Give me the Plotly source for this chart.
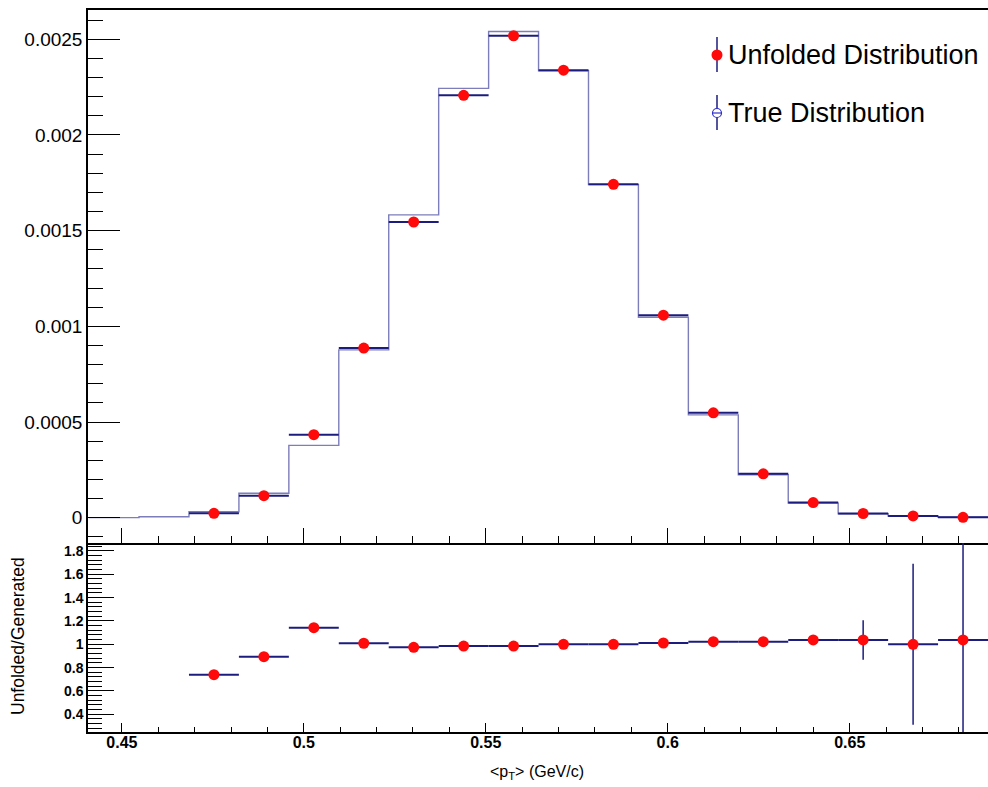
import numpy as np
import plotly.graph_objects as go

# ---- data -------------------------------------------------------------
# <pT> binning (18 equal bins)
bin_edges = np.linspace(0.441, 0.688, 19)

# generated ("true") spectrum, per bin
true_dist = [0.0000005, 0.000005, 0.000031, 0.000128, 0.000378, 0.000877,
             0.001582, 0.002243, 0.002540, 0.002335, 0.001740, 0.001047,
             0.000537, 0.000224, 0.000076, 0.000021, 0.000009, 0.000002]

# unfolded spectrum, per bin (None = empty bin)
unfolded = [None, None, 0.000023, 0.000115, 0.000434, 0.000886,
            0.001545, 0.002207, 0.002518, 0.002338, 0.001742, 0.001058,
            0.000548, 0.000229, 0.000079, 0.000022, 0.000009, 0.000002]
unfolded_err = [0, 0, 0.000002, 0.000003, 0.000005, 0.000006,
                0.000007, 0.000008, 0.000008, 0.000008, 0.000007, 0.000006,
                0.000005, 0.000003, 0.000002, 0.000003, 0.000006, 0.000003]

# unfolded / generated
ratio = [None, None, 0.740, 0.894, 1.142, 1.009, 0.974, 0.985, 0.985,
         1.000, 1.000, 1.011, 1.022, 1.022, 1.037, 1.037, 1.000, 1.037]
ratio_err = [0, 0, 0.01, 0.01, 0.01, 0.005, 0.005, 0.004, 0.004,
             0.004, 0.005, 0.006, 0.008, 0.014, 0.03, 0.17, 0.69, 1.30]

# tick labels
x_ticks = [0.45, 0.50, 0.55, 0.60, 0.65]
x_tick_text = ["0.45", "0.5", "0.55", "0.6", "0.65"]
ratio_ticks = [0.4, 0.6, 0.8, 1.0, 1.2, 1.4, 1.6, 1.8]
ratio_tick_text = ["0.4", "0.6", "0.8", "1", "1.2", "1.4", "1.6", "1.8"]

legend_labels = ["Unfolded Distribution", "True Distribution"]

# ---- derived bin geometry ---------------------------------------------
bin_centers = 0.5 * (bin_edges[:-1] + bin_edges[1:])
half_width = 0.5 * np.diff(bin_edges)

W, H = 988, 787
NAVY = "#1c1c7e"
TRUE_COL = "#7d7dbb"
RED = "#ff0a0a"
FONT = "Liberation Sans, Arial, Helvetica, sans-serif"


def py(p):
    """pixel row -> paper y"""
    return 1 - p / H


def px(p):
    """pixel column -> paper x"""
    return p / W


def bold(labels):
    return [f"<b>{t}</b>" for t in labels]


fig = go.Figure()

# true distribution as a step histogram
fig.add_trace(go.Scatter(
    x=list(bin_edges), y=true_dist + [true_dist[-1]],
    mode="lines", line=dict(color=TRUE_COL, width=1.4, shape="hv"),
    xaxis="x", yaxis="y", hoverinfo="skip"))

# unfolded points with bin-width bars
fig.add_trace(go.Scatter(
    x=bin_centers, y=unfolded, mode="markers",
    marker=dict(color=RED, size=11),
    error_x=dict(type="data", array=half_width, color=NAVY, thickness=2, width=0),
    error_y=dict(type="data", array=unfolded_err, color=NAVY, thickness=1.5, width=0),
    xaxis="x", yaxis="y"))

# ratio panel
fig.add_trace(go.Scatter(
    x=bin_centers, y=ratio, mode="markers",
    marker=dict(color=RED, size=11),
    error_x=dict(type="data", array=half_width, color=NAVY, thickness=2, width=0),
    error_y=dict(type="data", array=ratio_err, color=NAVY, thickness=1.5, width=0),
    xaxis="x2", yaxis="y2"))

xr = [0.4407, 0.6880]
top_dom = [py(543), py(10)]
bot_dom = [py(732), py(543)]

fig.update_layout(
    width=W, height=H, margin=dict(l=0, r=0, t=0, b=0),
    paper_bgcolor="white", plot_bgcolor="white", showlegend=False,
    font=dict(family=FONT, color="black"),
)

# top panel axes
fig.update_layout(
    xaxis=dict(range=xr, domain=[px(88), 1.0], anchor="y",
               showgrid=False, zeroline=False, showline=True, mirror=True,
               linecolor="black", linewidth=1.5,
               tickmode="array", tickvals=x_ticks, showticklabels=False,
               ticks="inside", ticklen=15, tickcolor="black", tickwidth=1.3,
               minor=dict(tickmode="linear", dtick=0.01, tick0=0.45,
                          ticks="inside", ticklen=7,
                          tickcolor="black", tickwidth=1.3)),
    yaxis=dict(domain=top_dom, range=[-0.0001322, 0.0026526], anchor="x",
               showgrid=False, zeroline=False, showline=True, linecolor="black",
               linewidth=1.5, ticks="inside", ticklen=32, tickwidth=1.3,
               tickcolor="black", dtick=0.0005, tick0=0, tickformat="~g",
               tickfont=dict(size=19),
               minor=dict(dtick=0.0001, tick0=0, ticks="inside", ticklen=15,
                          tickcolor="black", tickwidth=1.3)),
)

# ratio panel axes
fig.update_layout(
    xaxis2=dict(range=xr, domain=[px(88), 1.0], anchor="y2",
                showgrid=False, zeroline=False, showline=True,
                linecolor="black", linewidth=1.5,
                tickmode="array", tickvals=x_ticks,
                ticktext=bold(x_tick_text),
                ticks="inside", ticklen=9, tickcolor="black", tickwidth=1.3,
                minor=dict(tickmode="linear", dtick=0.01, tick0=0.45,
                           ticks="inside", ticklen=5,
                           tickcolor="black", tickwidth=1.3)),
    yaxis2=dict(domain=bot_dom, range=[0.2485, 1.868], anchor="x2",
                showgrid=False, zeroline=False, showline=True, linecolor="black",
                linewidth=1.5, ticks="inside", ticklen=26, tickwidth=1.3,
                tickcolor="black", tickmode="array", tickvals=ratio_ticks,
                ticktext=bold(ratio_tick_text),
                minor=dict(tickmode="linear", dtick=0.04, tick0=0,
                           ticks="inside", ticklen=14,
                           tickcolor="black", tickwidth=1.3)),
)
fig.update_xaxes(tickfont=dict(family=FONT, size=16, color="black"),
                 ticklabelstandoff=-5, selector=dict(anchor="y2"))
fig.update_yaxes(tickfont=dict(family=FONT, size=14, color="black"),
                 selector=dict(anchor="x2"))

# axis titles
fig.add_annotation(x=px(537), y=py(772), xref="paper", yref="paper",
                   text="&lt;p<sub>T</sub>&gt; (GeV/c)", showarrow=False,
                   font=dict(size=16), xanchor="center", yanchor="middle")
fig.add_annotation(x=px(18), y=py(636), xref="paper", yref="paper",
                   text="Unfolded/Generated", showarrow=False, textangle=-90,
                   font=dict(size=17.5), xanchor="center", yanchor="middle")

# legend
leg_x = 717
rows = [55, 113]
for lab, yy in zip(legend_labels, rows):
    fig.add_annotation(x=px(726), y=py(yy), xref="paper", yref="paper",
                       text=lab, showarrow=False, font=dict(size=27),
                       xanchor="left", yanchor="middle")
    fig.add_shape(type="line", xref="paper", yref="paper",
                  x0=px(leg_x), x1=px(leg_x), y0=py(yy - 18), y1=py(yy + 17),
                  line=dict(color=NAVY, width=1.5))

fig.add_shape(type="circle", xref="paper", yref="paper",
              xsizemode="pixel", ysizemode="pixel",
              xanchor=px(leg_x), yanchor=py(rows[0]),
              x0=-5.5, x1=5.5, y0=-5.5, y1=5.5,
              fillcolor=RED, line=dict(color=RED, width=0))
fig.add_shape(type="circle", xref="paper", yref="paper",
              xsizemode="pixel", ysizemode="pixel",
              xanchor=px(leg_x), yanchor=py(rows[1]),
              x0=-4.5, x1=4.5, y0=-4.5, y1=4.5,
              fillcolor="white", line=dict(color="#3030c8", width=1.2))
fig.add_shape(type="line", xref="paper", yref="paper",
              x0=px(leg_x - 4.5), x1=px(leg_x + 4.5), y0=py(rows[1]), y1=py(rows[1]),
              line=dict(color="#3030c8", width=1.2))

fig.write_html("out.html")
